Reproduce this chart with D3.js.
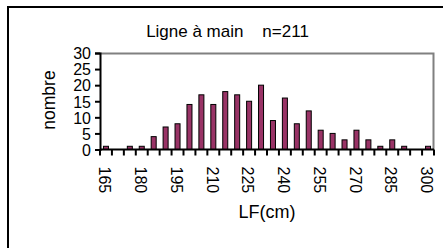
<!DOCTYPE html>
<html>
<head>
<meta charset="utf-8">
<script src="https://cdn.jsdelivr.net/npm/d3@7"></script>
<style>
  body { margin: 0; background: #fff; }
  text { font-family: "Liberation Sans", Arial, sans-serif; fill: #000; }
</style>
</head>
<body>
<div id="chart"></div>
<script>
// size classes (cm) and counts
var classes = [165, 170, 175, 180, 185, 190, 195, 200, 205, 210, 215, 220, 225, 230,
  235, 240, 245, 250, 255, 260, 265, 270, 275, 280, 285, 290, 295, 300];
var counts = [1, 0, 1, 1, 4, 7, 8, 14, 17, 14, 18, 17, 15, 20,
  9, 16, 8, 12, 6, 5, 3, 6, 3, 1, 3, 1, 0, 1];
var yTicks = [0, 5, 10, 15, 20, 25, 30];
var xLabels = [165, 180, 195, 210, 225, 240, 255, 270, 285, 300];

var svgWidth = 443;
var svgHeight = 248;

var margin = { top: 53, right: 9, bottom: 98.5, left: 100 };
var width = svgWidth - margin.left - margin.right;
var height = svgHeight - margin.top - margin.bottom;

var svg = d3.select("#chart")
  .append("svg")
  .attr("width", svgWidth)
  .attr("height", svgHeight);

// outer chart frame (cut off on right and bottom)
svg.append("path")
  .attr("d", "M8,248 V7 H443")
  .attr("fill", "none")
  .attr("stroke", "#000")
  .attr("stroke-width", 2);

svg.append("text")
  .attr("x", 227.5)
  .attr("y", 36.5)
  .attr("text-anchor", "middle")
  .attr("font-size", 17)
  .style("white-space", "pre")
  .text("Ligne à main    n=211");

var chartGroup = svg.append("g")
  .attr("transform", `translate(${margin.left}, ${margin.top})`);

var xBand = d3.scaleBand()
  .domain(classes)
  .range([0, width])
  .paddingInner(0.58)
  .paddingOuter(0.29);

var yLinearScale = d3.scaleLinear()
  .domain([0, 30])
  .range([height, 0]);

// plot area border (grey top/right)
chartGroup.append("path")
  .attr("d", `M0,0.5 H${width - 0.5} V${height}`)
  .attr("fill", "none")
  .attr("stroke", "#808080")
  .attr("stroke-width", 2);

// bars
chartGroup.selectAll("rect.bar")
  .data(classes)
  .enter()
  .append("rect")
  .attr("class", "bar")
  .attr("x", d => xBand(d))
  .attr("y", (d, i) => yLinearScale(counts[i]))
  .attr("width", xBand.bandwidth())
  .attr("height", (d, i) => height - yLinearScale(counts[i]))
  .attr("fill", "#993366")
  .attr("stroke", "#000")
  .attr("stroke-width", 1);

// y axis
var leftAxis = d3.axisLeft(yLinearScale)
  .tickValues(yTicks)
  .tickSize(5)
  .tickPadding(4);

var yAxis = chartGroup.append("g")
  .call(leftAxis);
yAxis.select(".domain").attr("stroke", "#000").attr("stroke-width", 2);
yAxis.selectAll("line").attr("stroke-width", 2);
yAxis.selectAll("text")
  .attr("font-size", 16)
  .attr("font-family", "Liberation Sans, Arial, sans-serif")
  .attr("dy", "0.36em");

// x axis: ticks at class boundaries
var xBoundary = d3.scaleLinear()
  .domain([0, classes.length])
  .range([0, width]);

var xAxis = chartGroup.append("g")
  .attr("transform", `translate(0, ${height})`);

xAxis.append("line")
  .attr("x1", 0)
  .attr("x2", width)
  .attr("stroke", "#000")
  .attr("stroke-width", 2);

xAxis.selectAll("line.tick")
  .data(d3.range(classes.length + 1))
  .enter()
  .append("line")
  .attr("class", "tick")
  .attr("x1", d => xBoundary(d))
  .attr("x2", d => xBoundary(d))
  .attr("y1", 0)
  .attr("y2", 6)
  .attr("stroke", "#000")
  .attr("stroke-width", 2);

xAxis.selectAll("text")
  .data(xLabels)
  .enter()
  .append("text")
  .attr("transform", d => `translate(${xBand(d) + xBand.bandwidth() / 2 - 1}, 17) rotate(90)`)
  .attr("dy", "0.36em")
  .attr("font-size", 16)
  .text(d => d);

// axis labels
svg.append("text")
  .attr("transform", "translate(55, 100) rotate(-90)")
  .attr("text-anchor", "middle")
  .attr("font-size", 17.5)
  .text("nombre");

svg.append("text")
  .attr("x", 267)
  .attr("y", 218)
  .attr("text-anchor", "middle")
  .attr("font-size", 18)
  .text("LF(cm)");
</script>
</body>
</html>
